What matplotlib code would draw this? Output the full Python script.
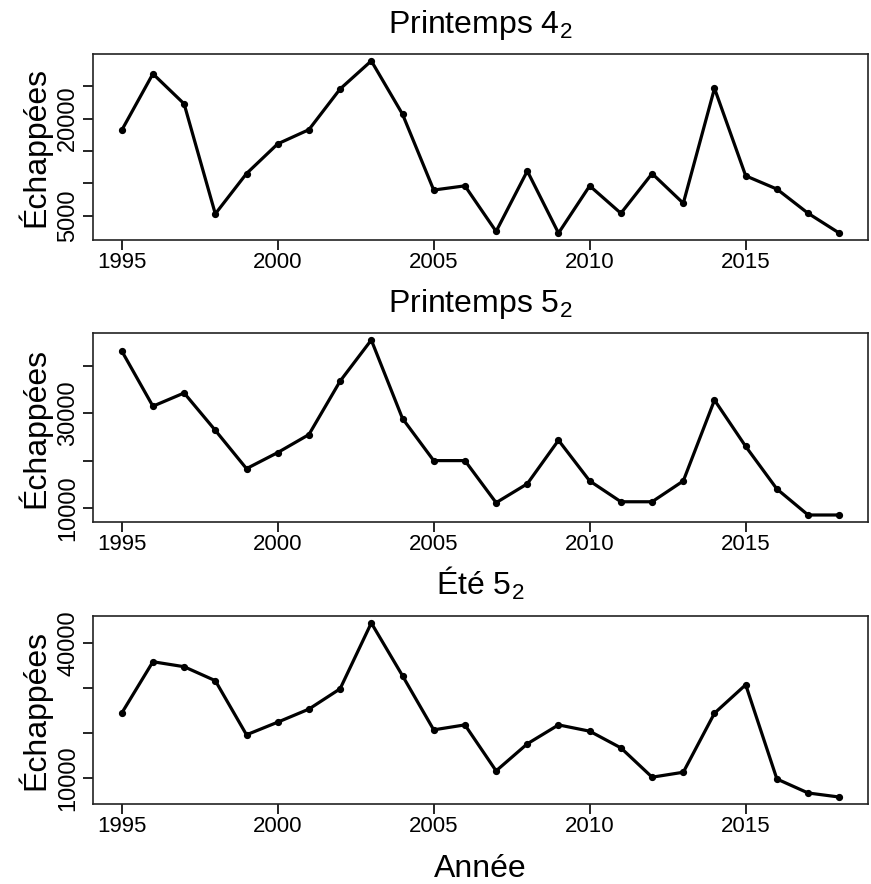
import matplotlib
matplotlib.use("Agg")
import matplotlib.pyplot as plt
import numpy as np

plt.rcParams['font.family'] = ['Liberation Sans', 'DejaVu Sans']
plt.rcParams['mathtext.fontset'] = 'custom'
plt.rcParams['mathtext.rm'] = 'Liberation Sans'
plt.rcParams['mathtext.it'] = 'Liberation Sans'

years = list(range(1995, 2019))

printemps4 = [18200, 26950, 22300, 5260, 11500, 16100, 18300, 24600, 28950, 20700,
              8950, 9600, 2540, 11900, 2280, 9600, 5350, 11500, 6900, 24700,
              11150, 9100, 5350, 2280]
printemps5 = [43200, 31500, 34300, 26400, 18300, 21700, 25500, 36800, 45500, 28900,
              20000, 20000, 11100, 15100, 24300, 15700, 11300, 11300, 15700, 32800,
              23000, 14000, 8500, 8500]
ete5 = [24400, 35800, 34700, 31600, 19600, 22400, 25300, 29800, 44400, 32700,
        20700, 21800, 11600, 17600, 21800, 20400, 16700, 10200, 11300, 24400,
        30700, 9800, 6700, 5800]

titles = [r'Printemps $\mathregular{4_2}$', r'Printemps $\mathregular{5_2}$', r'Été $\mathregular{5_2}$']
series = [printemps4, printemps5, ete5]
yticks = [[5000, 10000, 15000, 20000, 25000], [10000, 20000, 30000, 40000], [10000, 20000, 30000, 40000]]
yticklabels = [['5000', '', '', '20000', ''], ['10000', '', '30000', ''], ['10000', '', '', '40000']]
xticks = [1995, 2000, 2005, 2010, 2015]
ylabel = 'Échappées'
xlabel = 'Année'

W, H = 871, 884
fig = plt.figure(figsize=(W / 100, H / 100), dpi=100)

boxes = [(54, 240), (333, 522), (616, 804)]
left_px, right_px = 93, 868

for i, (top, bot) in enumerate(boxes):
    ax = fig.add_axes([left_px / W, 1 - bot / H, (right_px - left_px) / W, (bot - top) / H])
    y = np.array(series[i])
    ax.plot(years, y, color='black', lw=2.3, marker='o', ms=4.2)
    r = y.max() - y.min()
    ax.set_ylim(y.min() - 0.04 * r, y.max() + 0.04 * r)
    xr = years[-1] - years[0]
    ax.set_xlim(years[0] - 0.04 * xr, years[-1] + 0.04 * xr)
    ax.set_xticks(xticks)
    ax.set_xticklabels([str(t) for t in xticks])
    ax.set_yticks(yticks[i])
    ax.set_yticklabels(yticklabels[i], rotation=90, va='center')
    ax.tick_params(axis='both', direction='out', length=7, width=1.2, colors='black')
    ax.tick_params(axis='x', pad=2, labelsize=16)
    ax.tick_params(axis='y', pad=3, labelsize=17)
    for s in ax.spines.values():
        s.set_linewidth(1.2)
        s.set_color('#222222')
    ax.set_title(titles[i], fontsize=23, pad=15)
    ax.set_ylabel(ylabel, fontsize=23, labelpad=4)
    if i == 2:
        ax.set_xlabel(xlabel, fontsize=23, labelpad=12)

fig.savefig('out.png', dpi=100)
